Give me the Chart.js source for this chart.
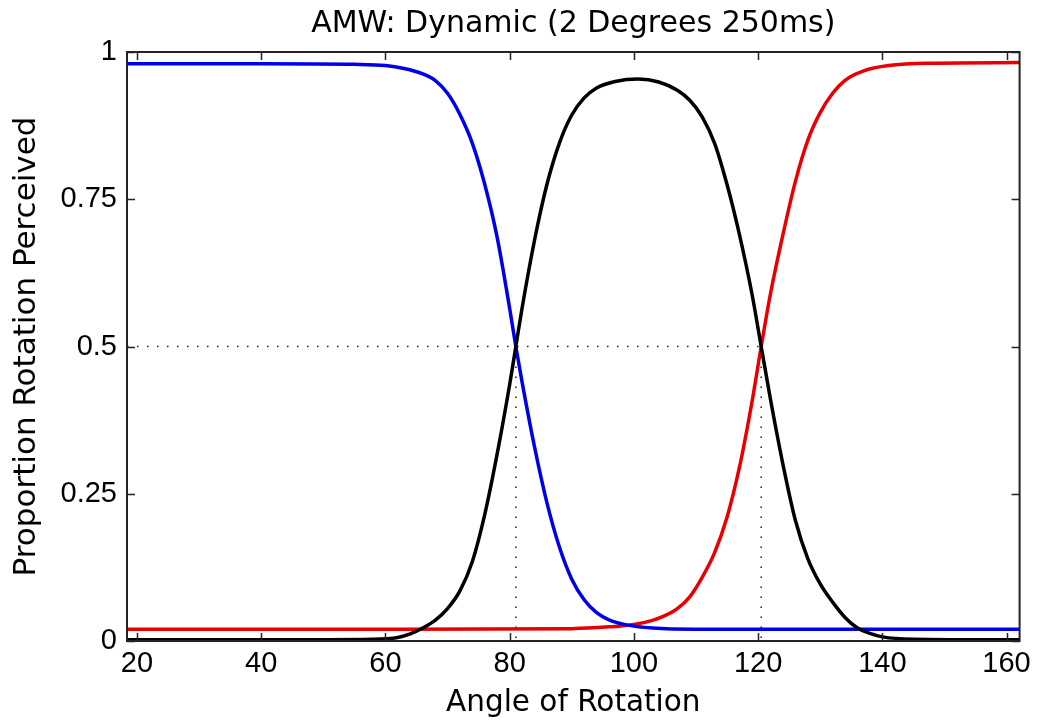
<!DOCTYPE html>
<html>
<head>
<meta charset="utf-8">
<script src="https://cdn.jsdelivr.net/npm/chart.js@4.4.1/dist/chart.umd.min.js"></script>
<style>
  html, body { margin: 0; padding: 0; background: #fff; }
  #wrap { width: 1037px; height: 721px; }
</style>
</head>
<body>
<div id="wrap"><canvas id="chart" width="1037" height="721"></canvas></div>
<script>
// values
const xTicks = [20, 40, 60, 80, 100, 120, 140, 160];
const yTicks = [0, 0.25, 0.5, 0.75, 1];
const xMin = 18.4;
const xMax = 162.1;

// blue: proportion of "low" responses
const blueAngles = [18.4, 40, 55, 60, 63, 66, 68, 70, 72, 74, 76, 78, 80, 81, 82, 84, 86, 88, 90, 92, 94, 96, 99, 103, 110, 162.1];
const blueValues = [0.98, 0.98, 0.979, 0.977, 0.972, 0.963, 0.952, 0.93, 0.894, 0.845, 0.775, 0.685, 0.565, 0.5, 0.44, 0.33, 0.235, 0.16, 0.105, 0.07, 0.048, 0.036, 0.027, 0.022, 0.02, 0.02];

// red: proportion of "high" responses
const redAngles = [18.4, 60, 90, 96, 100, 103, 105, 107, 109, 111, 113, 115, 117, 119, 120.5, 122, 124, 126, 128, 130, 132, 134, 137, 141, 148, 162.1];
const redValues = [0.02, 0.02, 0.021, 0.024, 0.028, 0.035, 0.043, 0.055, 0.075, 0.108, 0.15, 0.21, 0.295, 0.405, 0.5, 0.59, 0.69, 0.78, 0.85, 0.897, 0.93, 0.952, 0.968, 0.977, 0.981, 0.982];

// black: proportion of "middle" responses
const blackAngles = [18.4, 40, 58, 62, 64, 66, 68, 70, 72, 74, 76, 78, 80, 81, 82, 84, 86, 88, 90, 92, 94, 97, 100.7, 104, 107, 109, 111, 113, 115, 117, 119, 120.5, 122, 124, 126, 128, 130, 132, 134, 136, 138, 140, 145, 162.1];
const blackValues = [0.002, 0.002, 0.003, 0.006, 0.012, 0.022, 0.035, 0.055, 0.085, 0.135, 0.215, 0.318, 0.435, 0.5, 0.565, 0.68, 0.775, 0.845, 0.893, 0.922, 0.939, 0.95, 0.954, 0.949, 0.935, 0.918, 0.89, 0.845, 0.775, 0.69, 0.59, 0.5, 0.41, 0.3, 0.205, 0.14, 0.097, 0.066, 0.04, 0.022, 0.013, 0.007, 0.003, 0.002];

// 50% crossing points
const crossAngles = [81, 120.5];
const crossLevel = 0.5;

function toPoints(xs, ys) {
  return xs.map((x, i) => ({ x: x, y: ys[i] }));
}

const guideH = [{ x: xMin, y: crossLevel }, { x: crossAngles[1], y: crossLevel }];
const guideV1 = [{ x: crossAngles[0], y: crossLevel }, { x: crossAngles[0], y: 0 }];
const guideV2 = [{ x: crossAngles[1], y: crossLevel }, { x: crossAngles[1], y: 0 }];

const dotted = {
  borderColor: '#222',
  borderWidth: 1.5,
  borderDash: [1.5, 8.5],
  pointRadius: 0,
  fill: false
};

function curve(color, pts) {
  return {
    data: pts,
    borderColor: color,
    borderWidth: 3.5,
    pointRadius: 0,
    fill: false,
    cubicInterpolationMode: 'monotone'
  };
}

// box round the plot and inward tick marks on all four sides
const boxTicks = {
  id: 'boxTicks',
  afterDatasetsDraw(chart) {
    const { ctx, chartArea: a, scales } = chart;
    const len = 8;
    ctx.save();
    ctx.strokeStyle = '#222';
    ctx.lineWidth = 1.5;
    ctx.beginPath();
    xTicks.forEach(v => {
      const px = Math.round(scales.x.getPixelForValue(v)) + 0.5;
      ctx.moveTo(px, a.bottom); ctx.lineTo(px, a.bottom - len);
      ctx.moveTo(px, a.top); ctx.lineTo(px, a.top + len);
    });
    yTicks.forEach(v => {
      const py = Math.round(scales.y.getPixelForValue(v)) + 0.5;
      ctx.moveTo(a.left, py); ctx.lineTo(a.left + len, py);
      ctx.moveTo(a.right, py); ctx.lineTo(a.right - len, py);
    });
    ctx.stroke();
    ctx.lineWidth = 2;
    ctx.strokeRect(a.left, a.top, a.right - a.left, a.bottom - a.top);
    ctx.restore();
  }
};

new Chart(document.getElementById('chart'), {
  type: 'line',
  data: {
    datasets: [
      curve('#000000', toPoints(blackAngles, blackValues)),
      curve('#0000e8', toPoints(blueAngles, blueValues)),
      curve('#e80000', toPoints(redAngles, redValues)),
      Object.assign({ data: guideH }, dotted),
      Object.assign({ data: guideV1 }, dotted),
      Object.assign({ data: guideV2 }, dotted)
    ]
  },
  options: {
    responsive: false,
    animation: false,
    layout: { padding: { left: 0, right: 15, top: 0, bottom: 0 } },
    plugins: {
      legend: { display: false },
      tooltip: { enabled: false },
      title: {
        display: true,
        fullSize: false,
        text: 'AMW: Dynamic (2 Degrees 250ms)',
        color: '#000',
        font: { family: 'DejaVu Sans', size: 30, weight: 'normal' },
        padding: { top: 6, bottom: 10 }
      }
    },
    scales: {
      x: {
        type: 'linear',
        min: xMin,
        max: xMax,
        grid: { display: false, drawTicks: false },
        border: { display: false },
        afterBuildTicks: s => { s.ticks = xTicks.map(v => ({ value: v })); },
        afterFit: s => { s.height = 80; },
        ticks: {
          color: '#000',
          padding: 6,
          maxRotation: 0,
          autoSkip: false,
          callback: v => String(v),
          font: { family: 'Liberation Sans', size: 29 }
        },
        title: {
          display: true,
          text: 'Angle of Rotation',
          color: '#000',
          font: { family: 'DejaVu Sans', size: 29.5 },
          padding: { top: 0, bottom: 0 }
        }
      },
      y: {
        type: 'linear',
        min: 0,
        max: 1,
        grid: { display: false, drawTicks: false },
        border: { display: false },
        afterBuildTicks: s => { s.ticks = yTicks.map(v => ({ value: v })); },
        afterFit: s => { s.width = 127; },
        ticks: {
          color: '#000',
          padding: 10,
          callback: v => String(v),
          font: { family: 'Liberation Sans', size: 29 }
        },
        title: {
          display: true,
          text: 'Proportion Rotation Perceived',
          color: '#000',
          font: { family: 'DejaVu Sans', size: 31 },
          padding: { top: 8, bottom: 0 }
        }
      }
    }
  },
  plugins: [boxTicks]
});
</script>
</body>
</html>
